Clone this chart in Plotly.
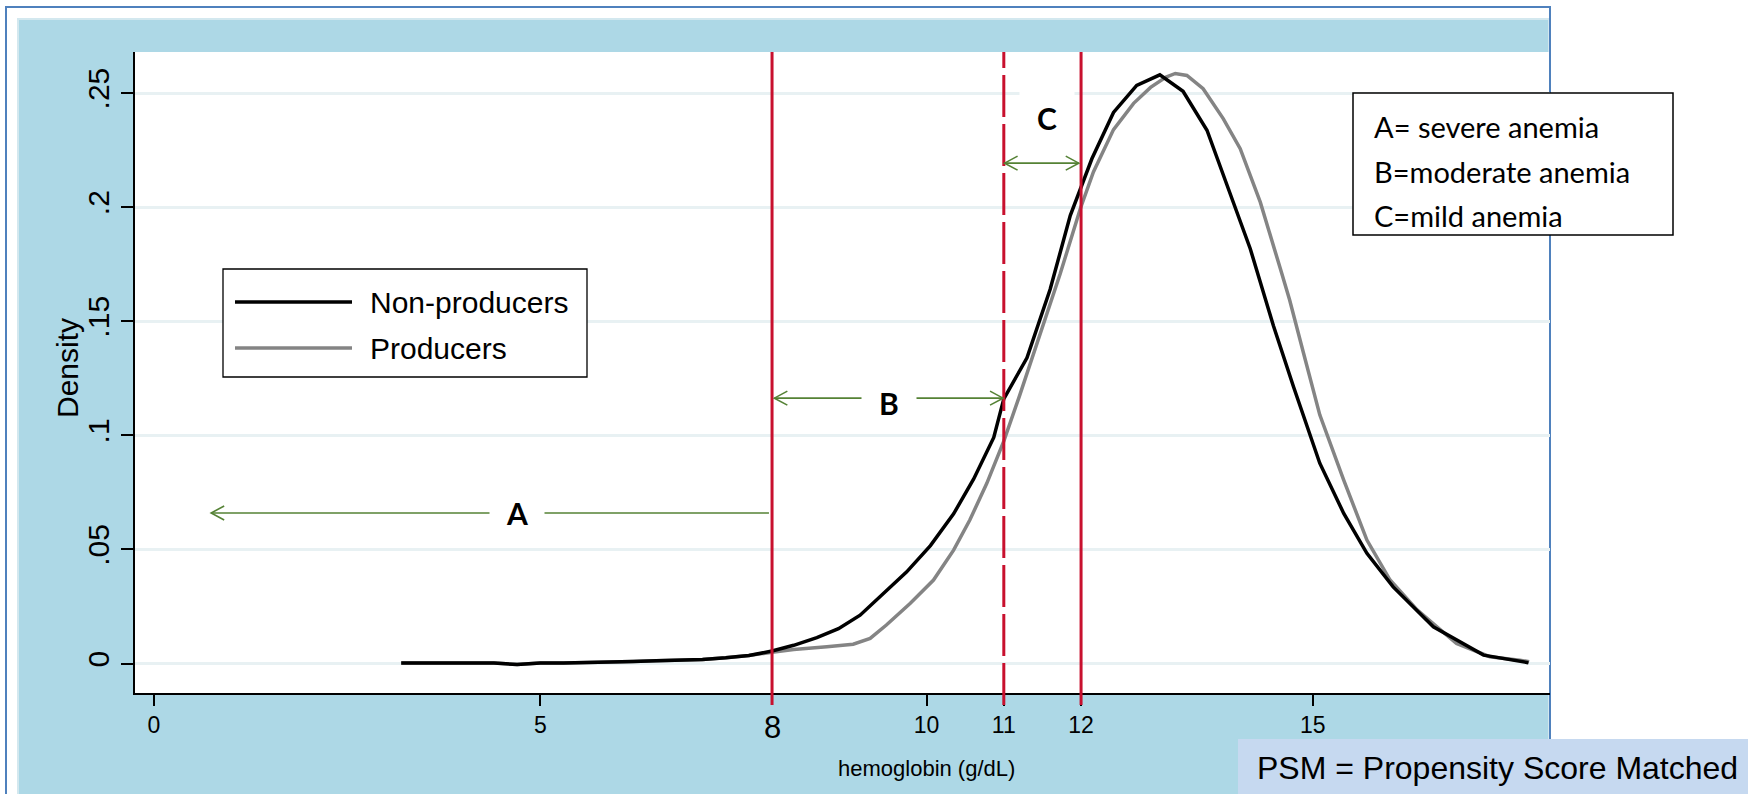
import plotly.graph_objects as go

# ---------------- data ----------------
hb_nonprod = [3.2, 3.5, 3.8, 4.1, 4.4, 4.7, 5.0, 5.3, 5.6, 5.9, 6.2, 6.5, 6.8, 7.1, 7.4, 7.7,
              8.0, 8.28, 8.58, 8.86, 9.14, 9.44, 9.74, 10.05, 10.35, 10.61, 10.87, 11.0,
              11.3, 11.6, 11.86, 12.14, 12.42, 12.72, 13.02, 13.32, 13.63, 13.89, 14.19,
              14.49, 14.75, 15.09, 15.40, 15.70, 16.04, 16.56, 17.21, 17.79]
dens_nonprod = [0.0003, 0.0003, 0.0003, 0.0003, 0.0002, -0.0004, 0.0002, 0.0003, 0.0004, 0.0006,
                0.0009, 0.0012, 0.0015, 0.0018, 0.0025, 0.0035, 0.0055, 0.0080, 0.0114, 0.0153,
                0.0212, 0.0306, 0.0401, 0.0517, 0.0656, 0.0809, 0.0991, 0.1160, 0.1340, 0.1640,
                0.1963, 0.2212, 0.2415, 0.2534, 0.2580, 0.2508, 0.2337, 0.2096, 0.1818, 0.1480,
                0.1213, 0.0878, 0.0658, 0.0483, 0.0336, 0.0161, 0.0037, 0.0004]

hb_prod = [3.2, 3.5, 3.8, 4.1, 4.4, 4.7, 5.0, 5.3, 5.6, 5.9, 6.2, 6.5, 6.8, 7.1, 7.4, 7.7,
           8.0, 8.28, 8.71, 9.05, 9.27, 9.48, 9.79, 10.09, 10.35, 10.56, 10.78, 11.0, 11.2,
           11.45, 11.73, 11.99, 12.16, 12.42, 12.68, 12.9, 13.1, 13.22, 13.37, 13.58, 13.84,
           14.06, 14.32, 14.58, 14.7, 14.88, 15.09, 15.40, 15.70, 16.00, 16.35, 16.86, 17.29,
           17.68, 17.8]
dens_prod = [0.0003, 0.0003, 0.0003, 0.0003, 0.0002, -0.0004, 0.0002, 0.0003, 0.0004, 0.0006,
             0.0009, 0.0012, 0.0015, 0.0018, 0.0025, 0.0035, 0.0050, 0.0062, 0.0074, 0.0085,
             0.0110, 0.0169, 0.0264, 0.0366, 0.0497, 0.0629, 0.0790, 0.0975, 0.1170, 0.1420,
             0.1708, 0.1993, 0.2154, 0.2340, 0.2455, 0.2525, 0.2570, 0.2586, 0.2577, 0.2519,
             0.2388, 0.2256, 0.2022, 0.1730, 0.1593, 0.1360, 0.1090, 0.0804, 0.0541, 0.0366,
             0.0235, 0.0088, 0.0030, 0.0015, 0.0008]

x_ticks = [0, 5, 10, 11, 12, 15]
x_tick_labels = ["0", "5", "10", "11", "12", "15"]
y_ticks = [0, 0.05, 0.10, 0.15, 0.20, 0.25]
y_tick_labels = ["0", ".05", ".1", ".15", ".2", ".25"]

cutoffs = [8, 11, 12]
cutoff_dash = ["solid", "42px,7px", "solid"]

range_labels = ["A", "B", "C"]
range_start = [0.74, 8.03, 11.01]
range_end = [7.96, 10.99, 11.97]
range_y = [0.066, 0.1163, 0.2193]
range_label_x = [4.70, 9.51, 11.56]
range_label_y = [0.066, 0.1140, 0.2390]
head_left = [True, True, True]
head_right = [False, True, True]

series_names = ["Non-producers", "Producers"]
series_colors = ["#000000", "#848484"]
key_lines = ["A= severe anemia", "B=moderate anemia", "C=mild anemia"]

# ---------------- geometry ----------------
W, H = 1748, 794
ML, MR, MT, MB = 135, 198, 52, 101
PW, PH = W - ML - MR, H - MT - MB
XR = [-0.246, 18.07]
YR = [-0.0129, 0.268]
px_x = PW / (XR[1] - XR[0])      # pixels per x unit
px_y = PH / (YR[1] - YR[0])      # pixels per y unit


def xp(px):  # pixel -> paper x
    return (px - ML) / PW


def yp(py):  # pixel -> paper y
    return (H - MB - py) / PH


SANS = "Liberation Sans, Arial, sans-serif"
CAL = "Lato, Carlito, Calibri, sans-serif"
RED = "#C8102E"
GREEN = "#558235"
BLUE_BG = "#ADD8E6"

fig = go.Figure()

fig.add_trace(go.Scatter(x=hb_prod, y=dens_prod, mode="lines", name=series_names[1],
                         line=dict(color=series_colors[1], width=3.5), showlegend=False))
fig.add_trace(go.Scatter(x=hb_nonprod, y=dens_nonprod, mode="lines", name=series_names[0],
                         line=dict(color=series_colors[0], width=3.5), showlegend=False))

shapes = []
# outer frame + graph region
shapes.append(dict(type="rect", xref="paper", yref="paper", x0=xp(6), x1=xp(1550),
                   y0=yp(7), y1=yp(820), line=dict(color="#4F81BD", width=2),
                   fillcolor="white", layer="below"))
shapes.append(dict(type="rect", xref="paper", yref="paper", x0=xp(18), x1=xp(1549),
                   y0=yp(19), y1=yp(820), line=dict(color="#D3E8EF", width=2),
                   fillcolor=BLUE_BG, layer="below"))
shapes.append(dict(type="rect", xref="paper", yref="paper", x0=0, x1=1, y0=0, y1=1,
                   line=dict(width=0), fillcolor="white", layer="below"))
# right frame line (on top of blue)
shapes.append(dict(type="line", xref="paper", yref="paper", x0=xp(1550), x1=xp(1550),
                   y0=yp(7), y1=yp(800), line=dict(color="#4F81BD", width=2), layer="below"))

# cutoff lines
for c, d in zip(cutoffs, cutoff_dash):
    shapes.append(dict(type="line", xref="x", yref="paper", x0=c, x1=c, y0=yp(705), y1=1,
                       line=dict(color=RED, width=3, dash=d), layer="above"))

# range arrows
hx = 13 / px_x
hy = 7 / px_y
for s, e, y, hl, hr in zip(range_start, range_end, range_y, head_left, head_right):
    shapes.append(dict(type="line", xref="x", yref="y", x0=s, x1=e, y0=y, y1=y,
                       line=dict(color=GREEN, width=1.6), layer="above"))
    if hl:
        shapes.append(dict(type="path", xref="x", yref="y",
                           path=f"M{s + hx},{y + hy} L{s},{y} L{s + hx},{y - hy}",
                           line=dict(color=GREEN, width=1.6), layer="above"))
    if hr:
        shapes.append(dict(type="path", xref="x", yref="y",
                           path=f"M{e - hx},{y + hy} L{e},{y} L{e - hx},{y - hy}",
                           line=dict(color=GREEN, width=1.6), layer="above"))

# legend box
shapes.append(dict(type="rect", xref="paper", yref="paper", x0=xp(223), x1=xp(587),
                   y0=yp(377), y1=yp(269), line=dict(color="black", width=1.3),
                   fillcolor="white", layer="above"))
leg_y = [302, 348]
for name, col, ly in zip(series_names, series_colors, leg_y):
    shapes.append(dict(type="line", xref="paper", yref="paper", x0=xp(235), x1=xp(352),
                       y0=yp(ly), y1=yp(ly), line=dict(color=col, width=3.5), layer="above"))

# key box
shapes.append(dict(type="rect", xref="paper", yref="paper", x0=xp(1353), x1=xp(1673),
                   y0=yp(235), y1=yp(93), line=dict(color="black", width=1.5),
                   fillcolor="white", layer="above"))
# PSM box
shapes.append(dict(type="rect", xref="paper", yref="paper", x0=xp(1238), x1=xp(1760),
                   y0=yp(810), y1=yp(739), line=dict(width=0),
                   fillcolor="#C6D9F0", layer="above"))

annotations = []
for name, ly in zip(series_names, leg_y):
    annotations.append(dict(x=xp(368), y=yp(ly), xref="paper", yref="paper", text=name,
                            showarrow=False, xanchor="left", yanchor="middle",
                            font=dict(family=SANS, size=30, color="black")))
for lab, lx, ly in zip(range_labels, range_label_x, range_label_y):
    annotations.append(dict(x=lx, y=ly, xref="x", yref="y", text=f"<b>{lab}</b>",
                            showarrow=False, xanchor="center", yanchor="middle",
                            width=52, height=58, bgcolor="white",
                            font=dict(family=CAL, size=30, color="black")))
for txt, ky in zip(key_lines, [127, 172, 215]):
    annotations.append(dict(x=xp(1372), y=yp(ky), xref="paper", yref="paper", text=txt,
                            showarrow=False, xanchor="left", yanchor="middle",
                            font=dict(family=CAL, size=29, color="black")))
annotations.append(dict(x=xp(1497), y=yp(768), xref="paper", yref="paper",
                        text="PSM = Propensity Score Matched", showarrow=False,
                        xanchor="center", yanchor="middle",
                        font=dict(family=SANS, size=32, color="black")))
annotations.append(dict(x=xp(926), y=yp(768), xref="paper", yref="paper",
                        text="hemoglobin (g/dL)", showarrow=False,
                        xanchor="center", yanchor="middle",
                        font=dict(family=SANS, size=22, color="black")))
annotations.append(dict(x=xp(67), y=yp(368), xref="paper", yref="paper",
                        text="Density", showarrow=False, textangle=-90,
                        xanchor="center", yanchor="middle",
                        font=dict(family=SANS, size=30, color="black")))
annotations.append(dict(x=8, y=yp(727), xref="x", yref="paper", text="8",
                        showarrow=False, xanchor="center", yanchor="middle",
                        font=dict(family=SANS, size=31, color="black")))

fig.update_layout(
    width=W, height=H,
    margin=dict(l=ML, r=MR, t=MT, b=MB, pad=0),
    paper_bgcolor="white", plot_bgcolor="white",
    shapes=shapes, annotations=annotations, showlegend=False,
    xaxis=dict(range=XR, tickvals=x_ticks, ticktext=x_tick_labels, ticks="outside",
               ticklen=11, tickwidth=1.5, tickcolor="black", showline=True,
               linecolor="black", linewidth=1.5, showgrid=False, zeroline=False,
               tickfont=dict(family=SANS, size=23, color="black"), fixedrange=True),
    yaxis=dict(range=YR, tickvals=y_ticks, ticktext=y_tick_labels, ticks="outside",
               ticklen=12, tickwidth=1.5, tickcolor="black", showline=True,
               linecolor="black", linewidth=1.5, showgrid=True, gridcolor="#E8F1F3",
               gridwidth=3, zeroline=False, tickangle=-90,
               tickfont=dict(family=SANS, size=30, color="black"), fixedrange=True),
)

fig.write_html("out.html", config={"displayModeBar": False},
               post_script="document.body.style.margin='0';document.body.style.overflow='hidden';")
